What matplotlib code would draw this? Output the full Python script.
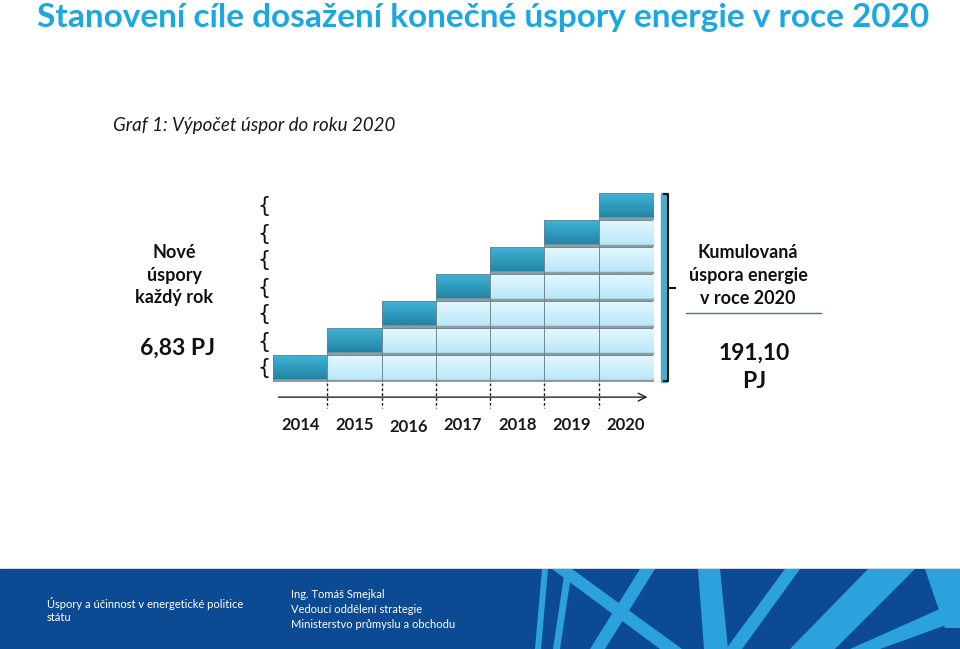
import matplotlib
matplotlib.use("Agg")
import matplotlib.pyplot as plt
from matplotlib.patches import Polygon, Rectangle
from matplotlib.colors import to_rgb
import numpy as np

W, H = 960, 649

# data
years = ["2014", "2015", "2016", "2017", "2018", "2019", "2020"]
new_savings = [6.83, 6.83, 6.83, 6.83, 6.83, 6.83, 6.83]   # PJ each year
total_2020 = "191,10"
yearly_label = "6,83 PJ"

title = "Stanovení cíle dosažení konečné úspory energie v roce 2020"
subtitle = "Graf 1: Výpočet úspor do roku 2020"
left_text = ["Nové", "úspory", "každý rok"]
right_text = ["Kumulovaná", "úspora energie", "v roce 2020"]
footer_left = ["Úspory a účinnost v energetické politice", "státu"]
footer_right = ["Ing. Tomáš Smejkal", "Vedoucí oddělení strategie", "Ministerstvo průmyslu a obchodu"]

FONT = "Lato"
TITLE_C = "#1ba7e1"
NAVY = "#0c4b94"
LIGHTBLUE = "#2ba2dc"


def grad(top, bottom, n=60, strip=0.1, strip_c="#8c9da5"):
    t, b = np.array(to_rgb(top)), np.array(to_rgb(bottom))
    f = np.linspace(0, 1, n)[:, None]
    img = t * (1 - f) + b * f
    k = int(n * strip)
    img[-k:] = to_rgb(strip_c)
    return img[:, None, :]


fig = plt.figure(figsize=(W / 100, H / 100), dpi=100)

# background axes in pixel coordinates for slide decorations
bg = fig.add_axes([0, 0, 1, 1])
bg.set_xlim(0, W)
bg.set_ylim(H, 0)
bg.axis("off")

bg.text(37, 17, title, color=TITLE_C, fontsize=24, fontweight="bold",
        family=FONT, va="center", ha="left")
bg.text(113, 125, subtitle, color="#1a1a1a", fontsize=13.5, style="italic",
        family=FONT, va="center", ha="left")

for i, s in enumerate(left_text):
    bg.text(174, 252 + 23 * i, s, fontsize=13, fontweight="bold", family=FONT,
            ha="center", va="center", color="#111")
bg.text(177, 348, yearly_label, fontsize=16.5, fontweight="bold", family=FONT,
        ha="center", va="center", color="#111")

for i, s in enumerate(right_text):
    bg.text(748, 252 + 23 * i, s, fontsize=13, fontweight="bold", family=FONT,
            ha="center", va="center", color="#111")
bg.plot([686, 821], [313, 313], color="#3f74b8", lw=1)
bg.text(754, 353, total_2020, fontsize=16.5, fontweight="bold", family=FONT,
        ha="center", va="center", color="#111")
bg.text(754, 382, "PJ", fontsize=16.5, fontweight="bold", family=FONT,
        ha="center", va="center", color="#111")

# footer band with decorative strokes
bg.add_patch(Rectangle((0, 569), W, 80, color=NAVY, zorder=1))
shapes = [
    [(542, 569), (548, 569), (541, 649), (535, 649)],
    [(552, 569), (572, 569), (682, 649), (660, 649)],
    [(640, 569), (655, 569), (605, 649), (590, 649)],
    [(565, 569), (572, 569), (560, 649), (553, 649)],
    [(698, 569), (720, 569), (728, 649), (704, 649)],
    [(785, 569), (800, 569), (742, 649), (726, 649)],
    [(868, 569), (915, 569), (835, 649), (790, 649)],
    [(925, 569), (960, 569), (960, 628), (945, 628)],
    [(960, 600), (960, 620), (880, 649), (850, 649)],
]
for pts in shapes:
    bg.add_patch(Polygon(pts, closed=True, color=LIGHTBLUE, lw=0, zorder=2))

for i, s in enumerate(footer_left):
    bg.text(47, 603 + 14.5 * i, s, color="white", fontsize=8, family=FONT,
            va="center", ha="left", zorder=4)
for i, s in enumerate(footer_right):
    bg.text(291, 595 + 14.5 * i, s, color="white", fontsize=8, family=FONT,
            va="center", ha="left", zorder=4)

# the step chart
x0, x1, ybot, ytop = 273, 653, 382, 193
ax = fig.add_axes([x0 / W, 1 - ybot / H, (x1 - x0) / W, (ybot - ytop) / H])
ax.axis("off")

xs = np.arange(len(years))
dark = grad("#3fb3d6", "#1f7fa0", strip=0.1)
light = grad("#e4f7fe", "#b5e7f8", strip=0.09)

for i in xs:
    bottom = 0
    for j in range(i + 1):
        bars = ax.bar(i, new_savings[j], bottom=bottom, width=1.0,
                      color="none", edgecolor="#6d8088", lw=0.5, zorder=3)
        p = bars.patches[0]
        img = dark if j == i else light
        ax.imshow(img, extent=[p.get_x(), p.get_x() + p.get_width(),
                               p.get_y(), p.get_y() + p.get_height()],
                  aspect="auto", zorder=2)
        bottom += new_savings[j]

total = sum(new_savings)
ax.set_xlim(-0.5, len(years) - 0.5)
ax.set_ylim(0, total)

# braces on the left for each level
cum = np.cumsum([0] + new_savings[:-1])
for c, v in zip(cum, new_savings):
    ax.text(-0.55, c + v / 2, "{", fontsize=15, family="DejaVu Sans",
            ha="right", va="center", color="#111", clip_on=False)

# time axis
tr = ax.get_xaxis_transform()
for i in xs[:-1]:
    ax.plot([i + 0.5, i + 0.5], [-0.005, -0.14], transform=tr, color="#222",
            lw=1, ls=(0, (2, 1.5)), clip_on=False)
ax.annotate("", xy=(6.45, -0.08), xytext=(-0.45, -0.08), xycoords=tr,
            textcoords=tr, arrowprops=dict(arrowstyle="->", color="#222",
                                           lw=1, mutation_scale=14))
yoff = [0, 0, -0.015, 0, 0, 0, 0]
for i, y in enumerate(years):
    ax.text(i, -0.225 + yoff[i], y, transform=tr, ha="center", va="center",
            fontsize=12, fontweight="bold", family=FONT, color="#1a1a1a",
            clip_on=False)

# bracket on the right for the cumulative total
px = 1 / 54.3   # one pixel in x data units
ax.add_patch(Rectangle((6.5 + 8 * px, 0), 6 * px, total, color="#4aaec8",
                       clip_on=False, zorder=3))
bx = 6.5 + 15 * px
ax.plot([bx - 4 * px, bx, bx, bx - 4 * px],
        [total - 0.25, total - 0.25, 0.25, 0.25], color="#111", lw=1.5,
        clip_on=False, zorder=5)
ax.plot([bx, bx + 7 * px], [total / 2, total / 2], color="#111", lw=1.5,
        clip_on=False, zorder=5)

fig.savefig("out.png", dpi=100)
